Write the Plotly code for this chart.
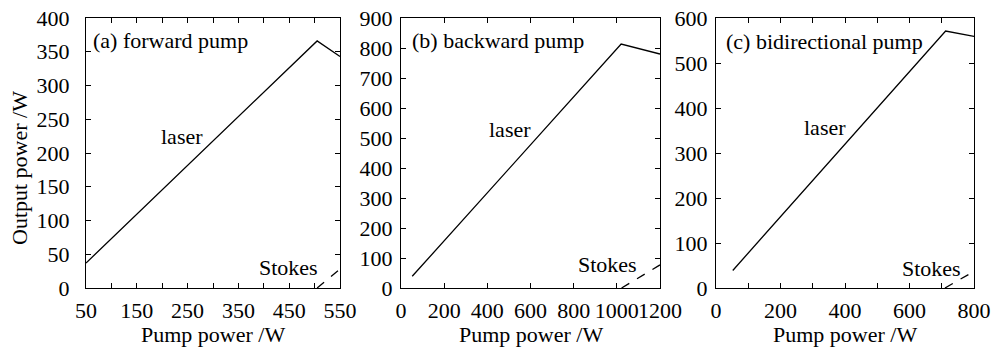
import plotly.graph_objects as go

# ---- data ----
fwd_pump = [50, 505, 550]
fwd_laser = [37, 366, 343]
fwd_stokes_pump = [505, 550]
fwd_stokes = [0, 28]

bwd_pump = [52, 1020, 1200]
bwd_laser = [39, 813, 780]
bwd_stokes_pump = [1022, 1200]
bwd_stokes = [0, 77]

bi_pump = [52, 712, 800]
bi_laser = [39, 571, 559]
bi_stokes_pump = [710, 800]
bi_stokes = [0, 37]

x_ranges = [[50, 550], [0, 1200], [0, 800]]
y_ranges = [[0, 400], [0, 900], [0, 600]]
x_tickvals = [[50, 150, 250, 350, 450, 550], [0, 200, 400, 600, 800, 1000, 1200], [0, 200, 400, 600, 800]]
x_minor = [50, 200, 100]
y_dticks = [50, 100, 100]
panel_titles = ["(a) forward pump", "(b) backward pump", "(c) bidirectional pump"]

# body margin is removed by post_script, so the figure sits at the window origin
OFF = 0
WIN_W, WIN_H = 991, 350
W, H = WIN_W - OFF, WIN_H - OFF
FONT = "Liberation Serif, Times New Roman, Times, serif"
FS = 22


def px_x(p):
    return (p - OFF) / W


def px_y(p):
    return (H - (p - OFF)) / H


fig = go.Figure()

series = [
    (fwd_pump, fwd_laser, fwd_stokes_pump, fwd_stokes),
    (bwd_pump, bwd_laser, bwd_stokes_pump, bwd_stokes),
    (bi_pump, bi_laser, bi_stokes_pump, bi_stokes),
]

x_dom_px = [(86, 340), (401, 660), (716, 974)]
y_top, y_bot = 18, 288
ylab_standoff = [11, 3, 3]

for i, (px, ly, spx, sy) in enumerate(series):
    n = "" if i == 0 else str(i + 1)
    fig.add_trace(go.Scatter(x=px, y=ly, mode="lines", line=dict(color="black", width=1.3),
                             xaxis="x" + n, yaxis="y" + n, showlegend=False))
    fig.add_trace(go.Scatter(x=spx, y=sy, mode="lines", line=dict(color="black", width=1.3, dash="dash"),
                             xaxis="x" + n, yaxis="y" + n, showlegend=False))

layout = dict(
    width=W, height=H, margin=dict(l=0, r=0, t=0, b=0, autoexpand=False),
    paper_bgcolor="white", plot_bgcolor="white",
    font=dict(family=FONT, size=FS, color="black"),
    showlegend=False,
)

for i in range(3):
    n = "" if i == 0 else str(i + 1)
    xa = dict(
        domain=[px_x(x_dom_px[i][0]), px_x(x_dom_px[i][1])], range=x_ranges[i],
        tickvals=x_tickvals[i], ticks="inside", ticklen=5, tickcolor="black",
        showline=True, linecolor="black", linewidth=1, mirror="ticks",
        showgrid=False, zeroline=False, anchor="y" + n, automargin=False, tickangle=0,
        tickfont=dict(family=FONT, size=FS), ticklabelstandoff=3, ticklabeloverflow="allow",
        minor=dict(dtick=x_minor[i], tick0=x_ranges[i][0], ticks="inside", ticklen=5, tickcolor="black"),
    )
    ya = dict(
        domain=[px_y(y_bot), px_y(y_top)], range=y_ranges[i], dtick=y_dticks[i],
        ticks="inside", ticklen=5, tickcolor="black",
        showline=True, linecolor="black", linewidth=1, mirror="ticks",
        showgrid=False, zeroline=False, anchor="x" + n, automargin=False,
        tickfont=dict(family=FONT, size=FS), ticklabelstandoff=ylab_standoff[i],
        ticklabeloverflow="allow",
    )
    layout["xaxis" + n] = xa
    layout["yaxis" + n] = ya
    cx = (x_dom_px[i][0] + x_dom_px[i][1]) / 2
    fig.add_annotation(x=px_x(cx), y=px_y(334), xref="paper", yref="paper", text="Pump power /W",
                       showarrow=False, xanchor="center", yanchor="middle",
                       font=dict(family=FONT, size=FS, color="black"))

fig.add_annotation(x=px_x(19), y=px_y(168), xref="paper", yref="paper", text="Output power /W",
                   showarrow=False, textangle=-90, xanchor="center", yanchor="middle",
                   font=dict(family=FONT, size=FS, color="black"))

fig.update_layout(**layout)

ann = [
    (0, 60, 366, panel_titles[0], "left"),
    (0, 239, 224, "laser", "center"),
    (0, 448, 31, "Stokes", "center"),
    (1, 40, 826, panel_titles[1], "left"),
    (1, 505, 527, "laser", "center"),
    (1, 958, 77, "Stokes", "center"),
    (2, 24, 547, panel_titles[2], "left"),
    (2, 338, 356, "laser", "center"),
    (2, 667, 44, "Stokes", "center"),
]
for p, x, y, t, xa in ann:
    n = "" if p == 0 else str(p + 1)
    fig.add_annotation(x=x, y=y, xref="x" + n, yref="y" + n, text=t, showarrow=False,
                       xanchor=xa, yanchor="middle", font=dict(family=FONT, size=FS, color="black"))

fig.write_html("out.html", config={"displayModeBar": False},
               post_script="document.body.style.margin='0px';")
